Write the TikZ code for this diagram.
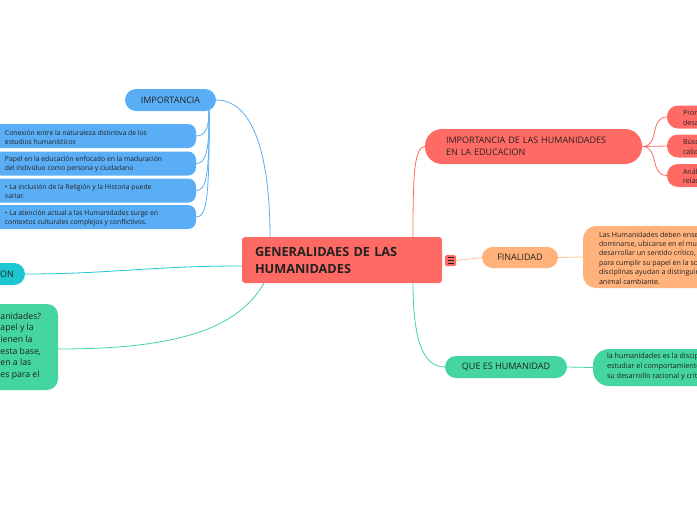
\documentclass[tikz,border=0pt]{standalone}
\usepackage{fontspec}
\setmainfont{Open Sans}
\usetikzlibrary{backgrounds}
\definecolor{cred}{HTML}{FF6B64}
\definecolor{cblue}{HTML}{5AAEF5}
\definecolor{ccyan}{HTML}{1DC7D2}
\definecolor{cgreen}{HTML}{45D5A1}
\definecolor{corange}{HTML}{FFB27C}
\definecolor{corangeline}{HTML}{FFC49C}
\definecolor{ctext}{HTML}{222222}
\begin{document}
\begin{tikzpicture}[x=1pt,y=-1pt,
  every node/.style={inner sep=0pt, outer sep=0pt},
  lbl/.style={font=\fontsize{9}{11}\selectfont, text=ctext},
  smalltxt/.style={font=\fontsize{6.8}{9.2}\selectfont, text=ctext, align=left},
  rtxt/.style={font=\fontsize{7.1}{9.4}\selectfont, text=ctext, align=left},
  bigtxt/.style={font=\fontsize{8.7}{11.6}\selectfont, text=ctext, align=left},
  link/.style={line width=0.8pt},
  bluechild/.style={fill=cblue, rounded corners=8pt, minimum width=256pt, minimum height=24pt},
  redchild/.style={fill=cred, rounded corners=11pt, minimum width=100pt, minimum height=23pt},
]
\useasboundingbox (0,0) rectangle (697,520);
\clip (0,0) rectangle (697,520);

% central
\node[fill=cred, rounded corners=3pt, minimum width=200pt, minimum height=46pt,
      text width=174pt, inner xsep=13pt, align=left,
      font=\bfseries\fontsize{12.7}{17}\selectfont, text=ctext] (center) at (342,260) {GENERALIDAES DE LAS\\HUMANIDADES};
\node[fill=cred, rounded corners=1.5pt, minimum size=11pt] (icon) at (450.5,260.5) {};
\draw[ctext, line width=0.9pt] (447.5,257.7) -- (453.5,257.7) (447.5,260.5) -- (453.5,260.5) (447.5,263.3) -- (453.5,263.3);

\coordinate (cTopL) at (270,237);
\coordinate (cTopR) at (413,237);
\coordinate (cBotL) at (264,283);
\coordinate (cBotR) at (413,283);
\coordinate (cLeft) at (242,266);

% IMPORTANCIA (left)
\node[fill=cblue, rounded corners=11pt, minimum width=91pt, minimum height=22pt, lbl] (imp) at (170.5,100) {IMPORTANCIA};
\coordinate (impfork) at (209,100);
\node[bluechild] (c1) at (68,136) {};
\node[smalltxt, anchor=west] (c1t) at (5,137.5) {Conexión entre la naturaleza distintiva de los\\estudios humanísticos};
\node[bluechild] (c2) at (68,163.5) {};
\node[smalltxt, anchor=west] (c2t) at (5,164.5) {Papel en la educación enfocado en la maduración\\del individuo como persona y ciudadano};
\node[bluechild] (c3) at (68,190.5) {};
\node[smalltxt, anchor=west] (c3t) at (5,191.5) {• La inclusión de la Religión y la Historia puede\\variar.};
\node[bluechild] (c4) at (68,217) {};
\node[smalltxt, anchor=west] (c4t) at (5,218) {• La atención actual a las Humanidades surge en\\contextos culturales complejos y conflictivos.};

% ON (cyan)
\node[fill=ccyan, rounded corners=11pt, minimum width=65pt, minimum height=22pt] (on) at (-7.5,274) {};
\node[lbl, anchor=west] (ont) at (0,274) {ON};

% green left
\node[fill=cgreen, rounded corners=11pt, minimum width=158pt, minimum height=86pt] (gl) at (-21,347) {};
\node[bigtxt, anchor=west] (gtxt) at (0.5,346) {anidades?\\apel y la\\ienen la\\esta base,\\en a las\\es para el};
\coordinate (glR) at (58,349);

% IMPORTANCIA DE LAS HUMANIDADES
\node[fill=cred, rounded corners=17pt, minimum width=217pt, minimum height=35pt,
      text width=175pt, inner xsep=21pt, align=left, lbl, font=\fontsize{9}{12}\selectfont] (rimp) at (533.5,146.5) {IMPORTANCIA DE LAS HUMANIDADES\\EN LA EDUCACION};
\node[redchild] (rc1) at (717,117) {};
\node[rtxt, anchor=west] (rc1t) at (683,118) {Promover el\\desarrollo};
\node[redchild] (rc2) at (717,146) {};
\node[rtxt, anchor=west] (rc2t) at (683,147) {Búsqueda de\\calidad};
\node[redchild] (rc3) at (717,175.5) {};
\node[rtxt, anchor=west] (rc3t) at (683,176.5) {Análisis de\\relaciones};

% FINALIDAD
\node[fill=corange, rounded corners=10.5pt, minimum width=76pt, minimum height=21pt, lbl] (fin) at (520,257.5) {FINALIDAD};
\node[fill=corange, rounded corners=13pt, minimum width=200pt, minimum height=62pt] (finb) at (683,257) {};
\node[rtxt, anchor=west] (finbt) at (599,258) {Las Humanidades deben enseñar al hombre a\\dominarse, ubicarse en el mundo y\\desarrollar un sentido crítico, necesario\\para cumplir su papel en la sociedad. Estas\\disciplinas ayudan a distinguir al hombre como\\animal cambiante.};

% QUE ES HUMANIDAD
\node[fill=cgreen, rounded corners=11pt, minimum width=122pt, minimum height=22pt, lbl] (que) at (506,367) {QUE ES HUMANIDAD};
\node[fill=cgreen, rounded corners=16pt, minimum width=200pt, minimum height=37pt] (queb) at (693,367.5) {};
\node[rtxt, anchor=west, font=\fontsize{7.2}{9.6}\selectfont] (quebt) at (607,366.7) {la humanidades es la disciplina que se encarga de\\estudiar el comportamiento del ser humano y\\su desarrollo racional y crítico.};

% connectors
\begin{scope}[on background layer]
\draw[link, cblue] (cTopL) .. controls (270,160) and (255,100) .. (imp.east);
\draw[link, cblue] (impfork) .. controls (210,128) and (206,136) .. (c1.east);
\draw[link, cblue] (impfork) .. controls (210,152) and (206,163.5) .. (c2.east);
\draw[link, cblue] (impfork) .. controls (210,178) and (206,190.5) .. (c3.east);
\draw[link, cblue] (impfork) .. controls (210,204) and (206,217) .. (c4.east);
\draw[link, ccyan] (cLeft) .. controls (150,266) and (110,274) .. (on.east);
\draw[link, cgreen] (cBotL) .. controls (235,335) and (160,349) .. (glR);
\draw[link, cred] (cTopR) .. controls (413,175) and (414,147) .. (rimp.west);
\draw[link, cred] (rimp.east) .. controls (660,147) and (649,117) .. (rc1.west);
\draw[link, cred] (rimp.east) -- (rc2.west);
\draw[link, cred] (rimp.east) .. controls (660,147) and (649,175.5) .. (rc3.west);
\draw[link, corangeline] (icon.east) -- (fin.west);
\draw[link, corangeline] (fin.east) -- (finb.west);
\draw[link, cgreen] (cBotR) .. controls (413,345) and (425,367) .. (que.west);
\draw[link, cgreen] (que.east) -- (queb.west);
\end{scope}
\end{tikzpicture}
\end{document}
